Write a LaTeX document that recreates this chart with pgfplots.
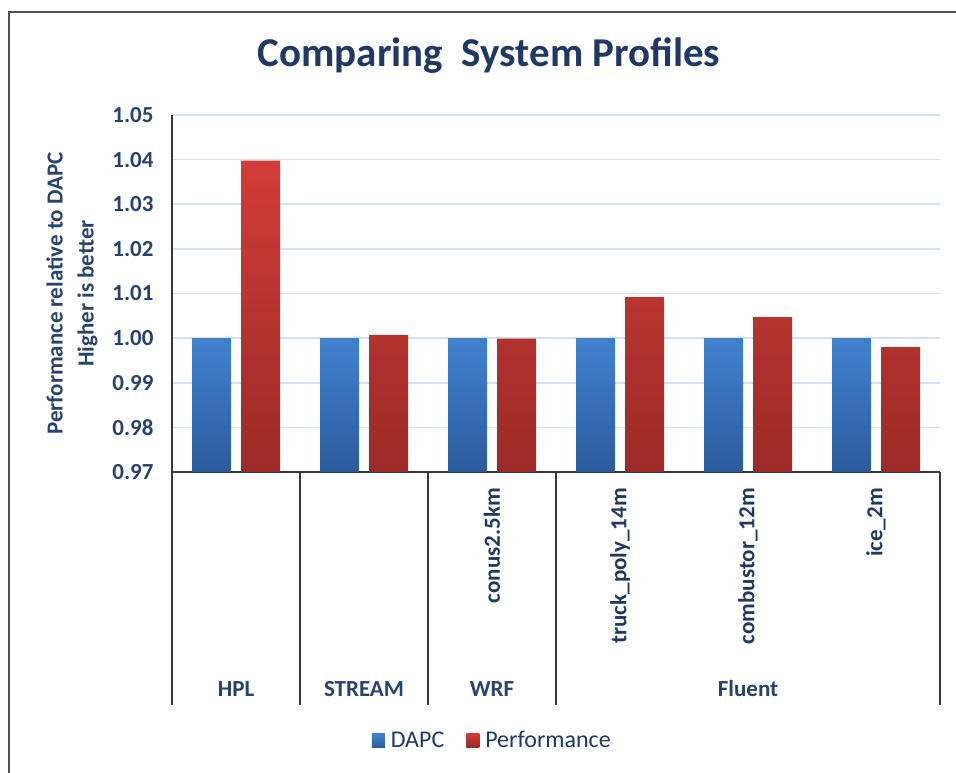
\documentclass[border=0pt]{standalone}
\usepackage{fontspec}
\setmainfont{Carlito}
\usepackage{pgfplots}
\pgfplotsset{compat=1.18}
\definecolor{navy}{RGB}{31,56,100}
\definecolor{tickblue}{RGB}{38,66,112}
\definecolor{gridblue}{RGB}{212,225,243}
\definecolor{btop}{RGB}{66,129,208}
\definecolor{bbot}{RGB}{42,92,156}
\definecolor{rtop}{RGB}{210,60,56}
\definecolor{rbot}{RGB}{155,42,38}
\definecolor{framec}{RGB}{80,80,80}
\definecolor{axisc}{RGB}{55,55,55}
\begin{document}
\begin{tikzpicture}
\useasboundingbox (0,0) rectangle (956pt,773pt);
\draw[framec, line width=2.5pt] (9pt,0) -- (9pt,761pt) -- (956pt,761pt);
\begin{axis}[
  at={(172pt,301pt)}, anchor=south west,
  scale only axis, width=768pt, height=357pt,
  xmin=-0.5, xmax=5.5, ymin=0, ymax=0.08,
  y filter/.expression={y-0.97},
  scaled y ticks=false,
  ybar=10pt, bar width=39pt,
  axis x line*=bottom, axis y line*=left,
  axis line style={line width=1.8pt, draw=axisc},
  xtick={0,1,2,3,4,5},
  xticklabels={{},{},conus2.5km,truck\_poly\_14m,combustor\_12m,ice\_2m},
  ytick={0,0.01,0.02,0.03,0.04,0.05,0.06,0.07,0.08},
  yticklabels={0.97,0.98,0.99,1.00,1.01,1.02,1.03,1.04,1.05},
  major tick length=0pt,
  ymajorgrids, grid style={gridblue, line width=1.6pt},
  yticklabel style={font=\bfseries\fontsize{23}{28}\selectfont, text=tickblue, xshift=-15pt},
  xticklabel style={font=\bfseries\fontsize{23}{28}\selectfont, text=navy, rotate=90, anchor=east, inner xsep=16pt, inner ysep=0pt},
  ylabel={Performance relative to DAPC\\Higher is better},
  ylabel style={font=\bfseries\fontsize{23}{31}\selectfont, text=tickblue, align=center, at={(axis description cs:0,0.5)}, anchor=center, yshift=100pt},
  title={Comparing\ \ System Profiles},
  title style={font=\bfseries\fontsize{41}{48}\selectfont, text=navy, at={(axis description cs:0.4128,1.12)}, anchor=base},
  legend style={draw=none, fill=none, at={(0.417,-0.751)}, anchor=center, legend columns=2,
    font=\fontsize{24}{28}\selectfont, text=navy,
    /tikz/every even column/.append style={column sep=20pt}},
  legend image code/.code={\path[#1, draw=none] (0pt,-7pt) rectangle (13pt,7pt);\path (0pt,0pt) -- (17pt,0pt);},
  clip=false,
]
\addplot[draw=none, top color=btop, bottom color=bbot] coordinates {(0,1.000) (1,1.000) (2,1.000) (3,1.000) (4,1.000) (5,1.000)};
\addplot[draw=none, top color=rtop, bottom color=rbot] coordinates {(0,1.0398) (1,1.0007) (2,0.9999) (3,1.0092) (4,1.0047) (5,0.9980)};
\legend{DAPC,Performance}
\coordinate (L0) at (axis cs:-0.5,0);
\coordinate (L1) at (axis cs:0.5,0);
\coordinate (L2) at (axis cs:1.5,0);
\coordinate (L3) at (axis cs:2.5,0);
\coordinate (L4) at (axis cs:5.5,0);
\coordinate (G0) at (axis cs:0,0);
\coordinate (G1) at (axis cs:1,0);
\coordinate (G2) at (axis cs:2,0);
\coordinate (G3) at (axis cs:4,0);
\end{axis}
\foreach \c in {L0,L1,L2,L3,L4}{\draw[axisc, line width=1.8pt] (\c) -- ++(0pt,-233pt);}
\begin{scope}[every node/.style={font=\bfseries\fontsize{23}{28}\selectfont, text=tickblue, anchor=base}]
\node at ([yshift=-225pt]G0) {HPL};
\node at ([yshift=-225pt]G1) {STREAM};
\node at ([yshift=-225pt]G2) {WRF};
\node at ([yshift=-225pt]G3) {Fluent};
\end{scope}
\end{tikzpicture}
\end{document}
